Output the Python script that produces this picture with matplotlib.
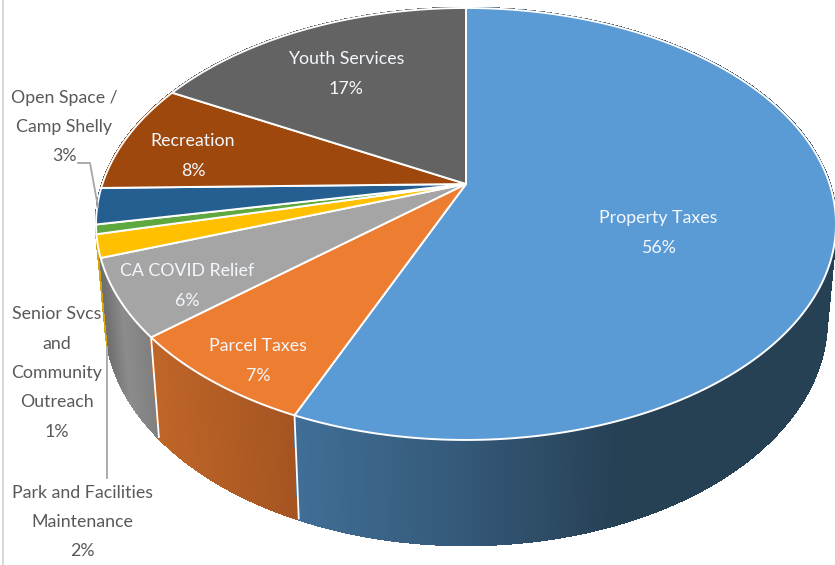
import numpy as np
import matplotlib
matplotlib.use("Agg")
import matplotlib.pyplot as plt
from matplotlib.collections import PolyCollection

plt.rcParams['font.family'] = ['Lato', 'DejaVu Sans']

categories = ["Property Taxes", "Parcel Taxes", "CA COVID Relief",
              "Park and Facilities\nMaintenance",
              "Senior Svcs\nand\nCommunity\nOutreach",
              "Open Space /\nCamp Shelly", "Recreation", "Youth Services"]
values = [56.4, 7.4, 5.8, 1.7, 0.7, 2.7, 8.2, 17.1]
percent_labels = ["56%", "7%", "6%", "2%", "1%", "3%", "8%", "17%"]
top_colors = ["#5B9BD5", "#ED7D31", "#A5A5A5", "#FFC000",
              "#5FA83F", "#255E91", "#9E480E", "#636363"]
# wall shading stops per slice: (x pixel, rgb)
wall_stops = [
    [(300, (64, 110, 150)), (470, (52, 88, 120)), (620, (38, 64, 84)), (840, (38, 64, 84))],
    [(150, (192, 102, 40)), (295, (165, 84, 34))],
    [(105, (112, 112, 112)), (125, (140, 140, 140)), (158, (125, 125, 125))],
    [(90, (215, 165, 10)), (110, (215, 165, 10))],
    [(90, (70, 130, 45)), (110, (70, 130, 45))],
    [(90, (30, 70, 110)), (110, (30, 70, 110))],
    [(90, (120, 55, 10)), (180, (120, 55, 10))],
    [(170, (75, 75, 75)), (470, (75, 75, 75))],
]
label_xy = [(658, 233), (258, 361), (187, 286), (82, 522),
            (57, 373), (64, 127), (193, 156), (346, 74)]
inside = [True, True, True, False, False, False, True, True]

W, H = 835, 565
fig = plt.figure(figsize=(W / 100, H / 100), dpi=100)
ax = fig.add_axes([0, 0, 1, 1])
ax.set_xlim(0, W)
ax.set_ylim(H, 0)
ax.axis("off")

CX, CY, A, B, K = 466, 184, 363.6, 208.6, 0.185


def top_rim(t):
    u, v = np.sin(t), np.cos(t)
    d = 1 + K * v
    return CX + A * u / d, CY - B * v / d


def low_rim(t):
    u, v = np.sin(t), np.cos(t)
    d = 1 + K * v
    return CX + 0.975 * A * u / d, CY + 94 - 217.6 * v / d


edges = np.concatenate([[0], np.cumsum(values)]) / np.sum(values) * 2 * np.pi

# walls, back slices first
for i in [7, 6, 5, 4, 3, 2, 1, 0]:
    ts = np.linspace(edges[i], edges[i + 1], 260)
    tx, ty = top_rim(ts)
    bx, by = low_rim(ts)
    sx = [s[0] for s in wall_stops[i]]
    sc = np.array([s[1] for s in wall_stops[i]], float) / 255
    polys, cols = [], []
    for j in range(len(ts) - 1):
        polys.append([(tx[j], ty[j]), (tx[j + 1], ty[j + 1]),
                      (bx[j + 1], by[j + 1]), (bx[j], by[j])])
        xm = (tx[j] + bx[j]) / 2
        cols.append([np.interp(xm, sx, sc[:, c]) for c in range(3)])
    ax.add_collection(PolyCollection(polys, facecolors=cols, edgecolors=cols,
                                     linewidths=1.2, antialiaseds=False))
    if i in (0, 1):
        ax.plot([tx[-1], bx[-1]], [ty[-1], by[-1]], color="white", lw=1.3, solid_capstyle="butt")

# top faces
for i in range(len(values)):
    ts = np.linspace(edges[i], edges[i + 1], 300)
    tx, ty = top_rim(ts)
    ax.fill(np.r_[CX, tx], np.r_[CY, ty], facecolor=top_colors[i], edgecolor="white", lw=1.4,
            joinstyle="round")

# leader lines
ax.plot([78, 90, 98], [163, 163, 207], color="#A6A6A6", lw=1.3)
ax.plot([107, 107], [347, 478], color="#A6A6A6", lw=1.3)

# labels
ax.axvline(3, color="#D0D0D0", lw=1.2)
for name, pct, (x, y), ins in zip(categories, percent_labels, label_xy, inside):
    ax.text(x, y, name + "\n" + pct, ha="center", va="center", fontsize=12.8,
            color="#F4F8FC" if ins else "#595959", linespacing=2.02)

fig.savefig("out.png", dpi=100)
